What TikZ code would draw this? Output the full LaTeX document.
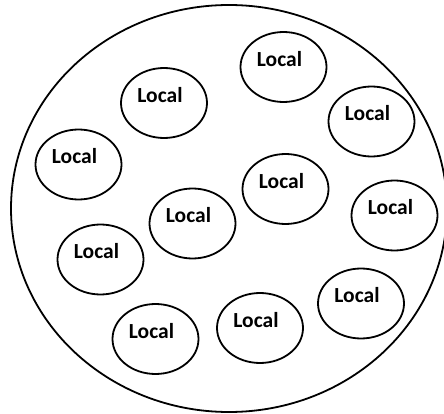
\documentclass[tikz,border=0pt]{standalone}
\usepackage{fontspec}
\setmainfont{Carlito}
\usetikzlibrary{shapes.geometric}
\tikzset{
  outer/.style={draw, line width=1.8pt, ellipse, minimum width=436pt, minimum height=407pt, inner sep=0pt},
  loc/.style={draw, line width=1.8pt, ellipse, minimum width=86pt, minimum height=70pt, inner sep=0pt,
    label={[xshift=-4pt, yshift=8pt, font=\bfseries\fontsize{21.5}{25}\selectfont]center:Local}},
}
\begin{document}
\begin{tikzpicture}[x=1pt,y=-1pt]
\useasboundingbox (0,0) rectangle (444,414);
\node[outer] (big) at (229,208.5) {};
\node[loc] (l1) at (283.5,67) {};
\node[loc] (l2) at (164,103) {};
\node[loc] (l3) at (371.5,121.5) {};
\node[loc] (l4) at (78.5,164.5) {};
\node[loc] (l5) at (285.5,189) {};
\node[loc] (l6) at (394.5,215.5) {};
\node[loc] (l7) at (192.5,223.5) {};
\node[loc] (l8) at (100.5,259.5) {};
\node[loc] (l9) at (155.5,339) {};
\node[loc] (l10) at (260,328) {};
\node[loc] (l11) at (361,303.5) {};
\end{tikzpicture}
\end{document}
